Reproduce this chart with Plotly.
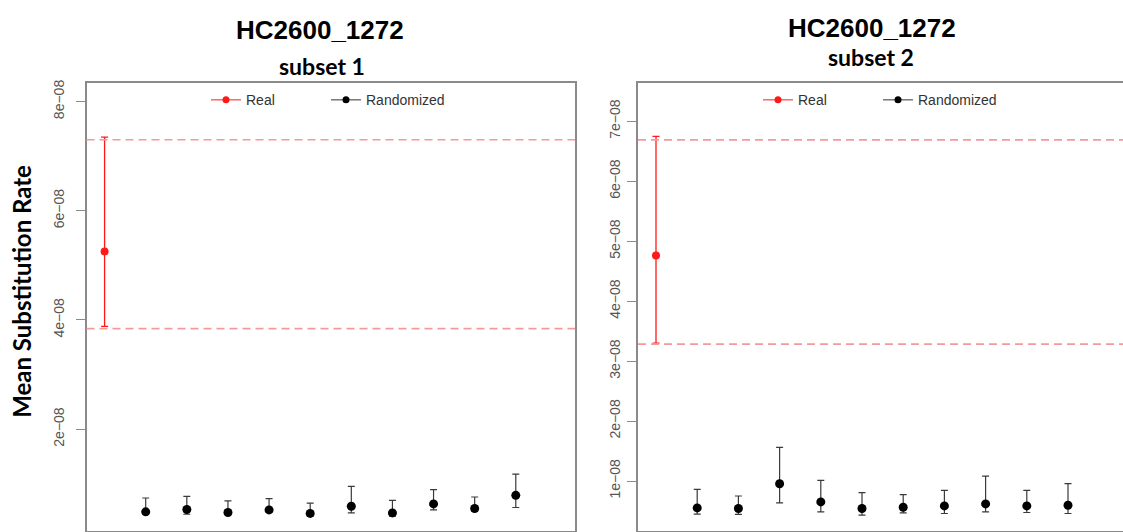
import plotly.graph_objects as go

# ---------------- data ----------------
rand_x = [1, 2, 3, 4, 5, 6, 7, 8, 9, 10]
real_x = [0]
E = 1e-8

# subset 1
s1_real = [5.255]
s1_real_hi = [7.35]
s1_real_lo = [3.88]
s1_band = [3.84, 7.30]
s1_rand = [0.484, 0.527, 0.473, 0.520, 0.455, 0.587, 0.465, 0.629, 0.545, 0.787]
s1_rand_hi = [0.738, 0.769, 0.684, 0.727, 0.642, 0.951, 0.696, 0.891, 0.756, 1.175]
s1_rand_lo = [0.450, 0.440, 0.440, 0.480, 0.405, 0.465, 0.405, 0.520, 0.496, 0.564]

# subset 2
s2_real = [4.763]
s2_real_hi = [6.75]
s2_real_lo = [3.30]
s2_band = [3.283, 6.69]
s2_rand = [0.551, 0.541, 0.955, 0.651, 0.541, 0.563, 0.585, 0.618, 0.585, 0.596]
s2_rand_hi = [0.861, 0.750, 1.561, 1.010, 0.806, 0.773, 0.844, 1.081, 0.844, 0.955]
s2_rand_lo = [0.447, 0.442, 0.634, 0.485, 0.430, 0.469, 0.458, 0.485, 0.475, 0.458]

y1_ticks = [2, 4, 6, 8]
y1_ticktext = ["2e\u221208", "4e\u221208", "6e\u221208", "8e\u221208"]
y2_ticks = [1, 2, 3, 4, 5, 6, 7]
y2_ticktext = ["1e\u221208", "2e\u221208", "3e\u221208", "4e\u221208",
               "5e\u221208", "6e\u221208", "7e\u221208"]

titles = ["HC2600_1272", "HC2600_1272"]
subtitles = ["subset 1", "subset 2"]
ylabel = "Mean Substitution Rate"

# ---------------- styles ----------------
W, H = 1123, 532
RED = "#ff1a1a"
BAND = "#f59a9a"
AXC = "#8a8a8a"
TICKC = "#555555"


def px_x(p):
    return p / W


def px_y(p):
    return 1 - p / H


def sc(a):
    return [v * E for v in a]


fig = go.Figure()

panels = [
    ("x", "y", s1_real, s1_real_hi, s1_real_lo, s1_band, s1_rand, s1_rand_hi, s1_rand_lo, "legend"),
    ("x2", "y2", s2_real, s2_real_hi, s2_real_lo, s2_band, s2_rand, s2_rand_hi, s2_rand_lo, "legend2"),
]

for xa, ya, rv, rhi, rlo, band, dv, dhi, dlo, leg in panels:
    # real
    fig.add_trace(go.Scatter(
        x=real_x, y=sc(rv), xaxis=xa, yaxis=ya, mode="markers",
        marker=dict(color=RED, size=8),
        error_y=dict(type="data", symmetric=False,
                     array=[(h - v) * E for h, v in zip(rhi, rv)],
                     arrayminus=[(v - l) * E for l, v in zip(rlo, rv)],
                     color=RED, thickness=1.3, width=3.5),
        showlegend=False, hoverinfo="skip"))
    # randomized
    fig.add_trace(go.Scatter(
        x=rand_x, y=sc(dv), xaxis=xa, yaxis=ya, mode="markers",
        marker=dict(color="black", size=9),
        error_y=dict(type="data", symmetric=False,
                     array=[(h - v) * E for h, v in zip(dhi, dv)],
                     arrayminus=[(v - l) * E for l, v in zip(dlo, dv)],
                     color="#3a3a3a", thickness=1.2, width=3.5),
        showlegend=False, hoverinfo="skip"))
    # band lines
    for b in band:
        fig.add_shape(type="line", xref=f"{xa} domain", yref=ya,
                      x0=0, x1=1, y0=b * E, y1=b * E,
                      line=dict(color=BAND, width=1.6, dash="8px,5px"))
    # legend-only entries
    fig.add_trace(go.Scatter(
        x=[None], y=[None], xaxis=xa, yaxis=ya, mode="lines+markers",
        name="Real", line=dict(color=RED, width=1),
        marker=dict(color=RED, size=7), legend=leg))
    fig.add_trace(go.Scatter(
        x=[None], y=[None], xaxis=xa, yaxis=ya, mode="lines+markers",
        name="Randomized", line=dict(color="#333333", width=1),
        marker=dict(color="black", size=7), legend=leg))

axis_common = dict(showgrid=False, zeroline=False, showline=True,
                   linecolor=AXC, linewidth=1.5)

legend_common = dict(orientation="h", xanchor="left", yanchor="middle",
                     bgcolor="rgba(0,0,0,0)", itemwidth=30,
                     entrywidth=75, entrywidthmode="pixels",
                     font=dict(family="Liberation Sans, Arial", size=14, color="#333333"))

fig.update_layout(
    width=W, height=H,
    margin=dict(l=0, r=0, t=0, b=0),
    paper_bgcolor="white", plot_bgcolor="white",
    showlegend=True,
    legend=dict(x=px_x(206), y=px_y(97), **legend_common),
    legend2=dict(x=px_x(758), y=px_y(97), **legend_common),
    xaxis=dict(domain=[px_x(86.5), px_x(575)], range=[-0.44, 11.44],
               mirror=True, showticklabels=False, ticks="", **axis_common),
    yaxis=dict(domain=[1 / H, px_y(80)], range=[0.133 * E, 8.333 * E],
               mirror=True, tickvals=sc(y1_ticks), ticktext=y1_ticktext,
               ticks="outside", ticklen=9, tickcolor=AXC, tickwidth=1,
               tickangle=-90, ticklabelstandoff=6,
               tickfont=dict(family="Liberation Sans, Arial", size=14, color=TICKC),
               **axis_common),
    xaxis2=dict(domain=[px_x(638), 1.0], range=[-0.437, 11.335],
                mirror=True, showticklabels=False, ticks="", anchor="y2",
                **axis_common),
    yaxis2=dict(domain=[1 / H, px_y(80)], range=[0.166 * E, 7.632 * E],
                anchor="x2", tickvals=sc(y2_ticks), ticktext=y2_ticktext,
                ticks="outside", ticklen=9, tickcolor=AXC, tickwidth=1,
                tickangle=-90, ticklabelstandoff=2,
                tickfont=dict(family="Liberation Sans, Arial", size=14, color=TICKC),
                **axis_common),
)

ann = []
title_pos = [(320, 26), (872, 24)]
sub_pos = [(322, 62), (871, 53)]
for t, (x, y) in zip(titles, title_pos):
    ann.append(dict(text=f"<b>{t}</b>", x=px_x(x), y=px_y(y), xref="paper", yref="paper",
                    xanchor="center", yanchor="middle", showarrow=False,
                    font=dict(family="Liberation Sans, Arial", size=26, color="black")))
for t, (x, y) in zip(subtitles, sub_pos):
    ann.append(dict(text=f"<b>{t}</b>", x=px_x(x), y=px_y(y), xref="paper", yref="paper",
                    xanchor="center", yanchor="middle", showarrow=False,
                    font=dict(family="Lato", size=23, color="black")))
ann.append(dict(text=f"<b>{ylabel}</b>", x=px_x(22), y=px_y(290), xref="paper", yref="paper",
                xanchor="center", yanchor="middle", showarrow=False, textangle=-90,
                font=dict(family="Lato", size=24, color="black")))
fig.update_layout(annotations=ann)

fig.write_html("out.html",
               config={"displayModeBar": False},
               post_script="document.body.style.margin='0';document.body.style.overflow='hidden';")
